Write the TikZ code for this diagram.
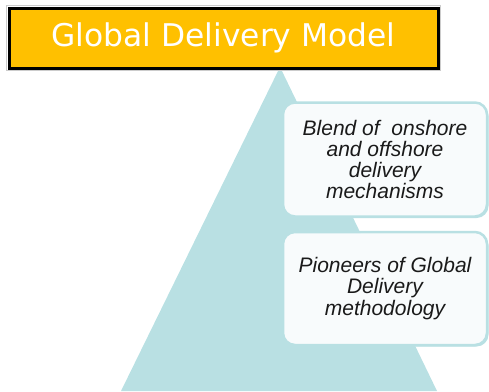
\documentclass[tikz,border=0pt]{standalone}
\usepackage{fontspec}
\setmainfont{Liberation Sans}
\newfontfamily\titlefont{DejaVu Sans}
\usetikzlibrary{shadows}
\definecolor{gold}{HTML}{FFC000}
\definecolor{tealc}{HTML}{B9E0E3}
\definecolor{txt}{HTML}{1A1A1A}
\tikzset{
  tri/.style={fill=tealc},
  titlebox/.style={draw=black, line width=3pt, fill=gold, text=white,
    font=\titlefont\fontsize{31.3}{34}\selectfont, inner sep=0pt,
    minimum width=429pt, minimum height=60pt},
  infobox/.style={draw=tealc, line width=2.5pt, rounded corners=12pt,
    fill=white, fill opacity=0.9, text opacity=1, text=txt, align=center,
    font=\itshape\fontsize{21}{21.3}\selectfont, inner sep=0pt,
    minimum width=204pt, minimum height=114pt,
    drop shadow={fill=tealc, opacity=1, shadow xshift=1.5pt, shadow yshift=-1.5pt}}
}
\begin{document}
\begin{tikzpicture}[x=1pt,y=-1pt]
\useasboundingbox (0,0) rectangle (489,391);
\fill[tri] (280,67) -- (121,391) -- (437,391) -- cycle;
\draw[gray!40, line width=0.8pt] (6.5,5.5) rectangle (440.5,70.5);
\node[titlebox] (title) at (223.5,38) {Global Delivery Model};
\node[infobox] (b1) at (385,159.5) {Blend of \ onshore\\and offshore\\delivery\\mechanisms};
\node[infobox, minimum height=113pt] (b2) at (385,288.5) {Pioneers of Global\\Delivery\\methodology};
\end{tikzpicture}
\end{document}
